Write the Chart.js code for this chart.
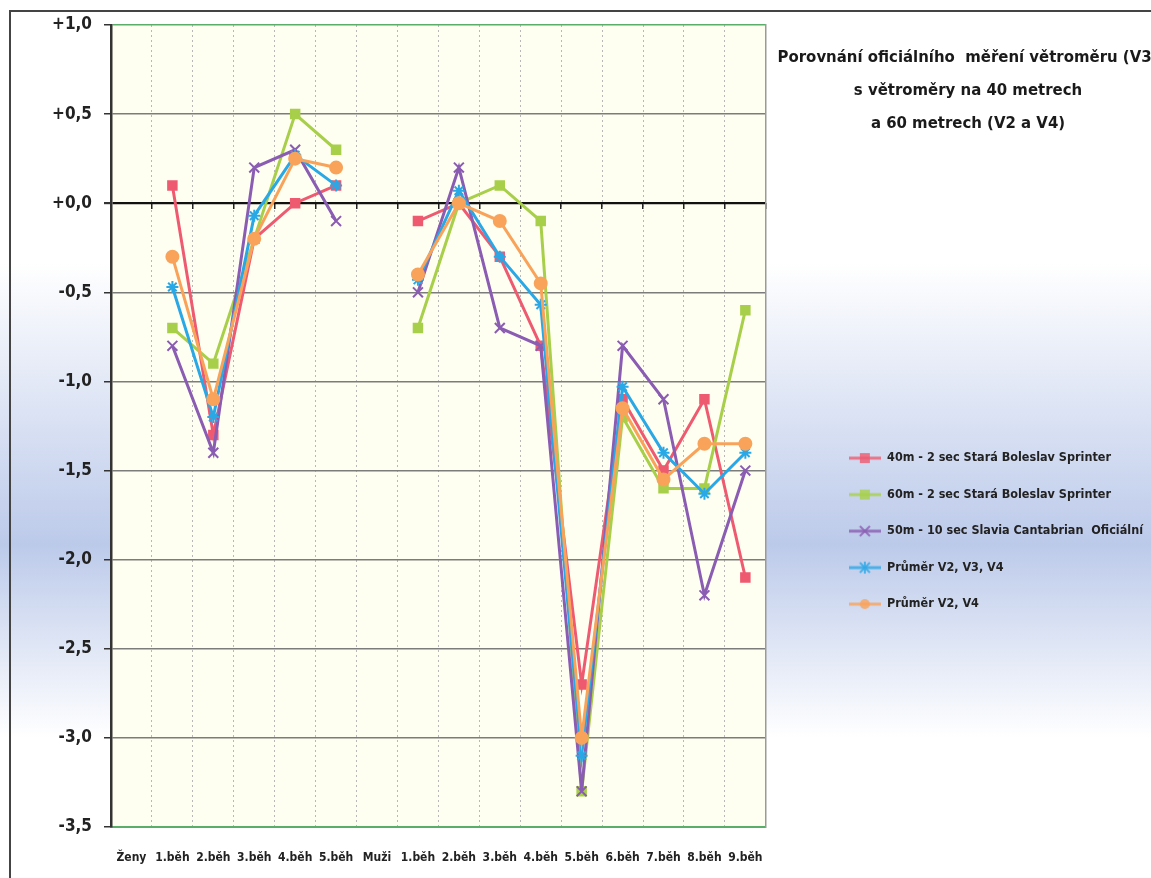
<!DOCTYPE html>
<html>
<head>
<meta charset="utf-8">
<title>Porovnání větroměrů</title>
<script src="https://cdn.jsdelivr.net/npm/chart.js@4/dist/chart.umd.min.js"></script>
<style>
  html, body {
    margin: 0;
    padding: 0;
    width: 1151px;
    height: 878px;
    overflow: hidden;
    background: linear-gradient(to bottom, #ffffff 0%, #ffffff 30%, #bccaea 62%, #ffffff 84%, #ffffff 100%);
    font-family: 'Liberation Sans Narrow', 'DejaVu Sans Condensed', 'Open Sans', sans-serif;
  }
  #frame {
    position: absolute;
    left: 9px;
    top: 10px;
    width: 1150px;
    height: 880px;
    border-top: 2px solid #444;
    border-left: 2px solid #444;
  }
  #wrap {
    position: absolute;
    left: 0;
    top: 0;
    width: 1151px;
    height: 878px;
  }
  #title {
    position: absolute;
    left: 772px;
    top: 40px;
    width: 392px;
    text-align: center;
    font-weight: bold;
    font-size: 16.6px;
    line-height: 33px;
    color: #1a1a1a;
    white-space: nowrap;
  }
</style>
</head>
<body>
<div id="frame"></div>
<div id="wrap"><canvas id="chart-wind"></canvas></div>
<div id="title">Porovnání oficiálního&nbsp; měření větroměru (V3)<br>s větroměry na 40 metrech<br>a 60 metrech (V2 a V4)</div>
<script>
// categories (Ženy / Muži blocks)
const categories = ['Ženy', '1.běh', '2.běh', '3.běh', '4.běh', '5.běh', 'Muži',
    '1.běh', '2.běh', '3.běh', '4.běh', '5.běh', '6.běh', '7.běh', '8.běh', '9.běh'];

// wind readings, m/s
const wind40m = [null, 0.1, -1.3, -0.2, 0.0, 0.1, null, -0.1, 0.0, -0.3, -0.8, -2.7, -1.1, -1.5, -1.1, -2.1];
const wind60m = [null, -0.7, -0.9, -0.2, 0.5, 0.3, null, -0.7, 0.0, 0.1, -0.1, -3.3, -1.2, -1.6, -1.6, -0.6];
const wind50m = [null, -0.8, -1.4, 0.2, 0.3, -0.1, null, -0.5, 0.2, -0.7, -0.8, -3.3, -0.8, -1.1, -2.2, -1.5];
const avgV2V3V4 = [null, -0.47, -1.2, -0.07, 0.27, 0.1, null, -0.43, 0.07, -0.3, -0.57, -3.1, -1.03, -1.4, -1.63, -1.4];
const avgV2V4 = [null, -0.3, -1.1, -0.2, 0.25, 0.2, null, -0.4, 0.0, -0.1, -0.45, -3.0, -1.15, -1.55, -1.35, -1.35];

const yTicks = [1, 0.5, 0, -0.5, -1, -1.5, -2, -2.5, -3, -3.5];

const FONT = "'Liberation Sans Narrow', 'DejaVu Sans Condensed', 'Open Sans', sans-serif";

const series = [
    {label: '40m - 2 sec Stará Boleslav Sprinter', data: wind40m, color: '#ee5a70', style: 'rect', order: 4},
    {label: '60m - 2 sec Stará Boleslav Sprinter', data: wind60m, color: '#a8cf4a', style: 'rect', order: 3},
    {label: '50m - 10 sec Slavia Cantabrian  Oficiální', data: wind50m, color: '#8a5cb2', style: 'crossRot', order: 2},
    {label: 'Průměr V2, V3, V4', data: avgV2V3V4, color: '#2aa8e6', style: 'star', order: 1},
    {label: 'Průměr V2, V4', data: avgV2V4, color: '#f9a35a', style: 'circle', order: 0}
];

// small line+marker image for the legend
function legendIcon(color, style) {
    const c = document.createElement('canvas');
    c.width = 32;
    c.height = 14;
    const g = c.getContext('2d');
    g.globalAlpha = 0.8;
    g.strokeStyle = color;
    g.fillStyle = color;
    g.lineWidth = 3;
    g.beginPath();
    g.moveTo(0, 7);
    g.lineTo(32, 7);
    g.stroke();
    g.lineWidth = 2;
    g.beginPath();
    if (style === 'rect') {
        g.fillRect(11, 2, 10, 10);
    } else if (style === 'circle') {
        g.arc(16, 7, 5, 0, Math.PI * 2);
        g.fill();
    } else if (style === 'crossRot') {
        g.moveTo(11, 2); g.lineTo(21, 12);
        g.moveTo(21, 2); g.lineTo(11, 12);
        g.stroke();
    } else {
        g.moveTo(11, 2); g.lineTo(21, 12);
        g.moveTo(21, 2); g.lineTo(11, 12);
        g.moveTo(16, 1); g.lineTo(16, 13);
        g.stroke();
    }
    return c;
}

function fmtTick(v) {
    const s = Math.abs(v).toFixed(1).replace('.', ',');
    return (v < 0 ? '-' : '+') + s;
}

const plotBackground = {
    id: 'plotBackground',
    beforeDraw(chart) {
        const {ctx, chartArea: a} = chart;
        ctx.save();
        ctx.fillStyle = '#fefef1';
        ctx.fillRect(a.left, a.top, a.width, a.height);
        ctx.restore();
    }
};

document.addEventListener('DOMContentLoaded', () => {
    const canvas = document.getElementById('chart-wind');
    canvas.width = 1151;
    canvas.height = 878;

    new Chart(canvas, {
        type: 'line',
        data: {
            labels: categories,
            datasets: series.map(s => ({
                label: s.label,
                data: s.data,
                borderColor: s.color,
                backgroundColor: s.color,
                pointBackgroundColor: s.color,
                pointBorderColor: s.color,
                pointStyle: s.style,
                pointRadius: s.style === 'crossRot' ? 7 : 6,
                pointBorderWidth: 2,
                borderWidth: 3,
                tension: 0,
                spanGaps: false,
                order: s.order
            }))
        },
        options: {
            responsive: false,
            animation: false,
            layout: {
                padding: {left: 10, top: 25, right: -2, bottom: 11}
            },
            plugins: {
                tooltip: {enabled: false},
                legend: {
                    position: 'right',
                    maxWidth: 420,
                    title: {
                        display: true,
                        text: ' ',
                        font: {size: 1},
                        padding: {top: 169, bottom: 0}
                    },
                    labels: {
                        usePointStyle: true,
                        pointStyleWidth: 32,
                        padding: 24,
                        color: '#222',
                        font: {family: FONT, size: 12.5, weight: 'bold'},
                        generateLabels: function(chart) {
                            return chart.data.datasets.map((ds, i) => ({
                                text: ds.label,
                                fillStyle: series[i].color,
                                strokeStyle: series[i].color,
                                fontColor: '#222',
                                pointStyle: legendIcon(series[i].color, series[i].style),
                                hidden: false,
                                lineWidth: 0,
                                datasetIndex: i
                            }));
                        }
                    }
                }
            },
            scales: {
                x: {
                    type: 'category',
                    offset: true,
                    grid: {
                        offset: true,
                        drawTicks: false,
                        color: '#b8b8b8',
                        lineWidth: 1
                    },
                    border: {display: true, color: '#5aae6a', width: 2, dash: [2, 3]},
                    ticks: {
                        autoSkip: false,
                        maxRotation: 0,
                        padding: 24,
                        color: '#222',
                        font: {family: FONT, size: 12, weight: 'bold'}
                    },
                    afterFit: scale => { scale.height = 40; }
                },
                xZero: {
                    type: 'category',
                    position: {y: 0},
                    offset: true,
                    grid: {
                        offset: true,
                        drawOnChartArea: false,
                        drawTicks: true,
                        tickLength: 6,
                        color: '#222',
                        lineWidth: 1.5
                    },
                    border: {display: false},
                    ticks: {display: true, color: 'rgba(0,0,0,0)', font: {size: 1}}
                },
                y: {
                    min: -3.5,
                    max: 1,
                    afterBuildTicks: scale => {
                        scale.ticks = yTicks.map(v => ({value: v}));
                    },
                    grid: {
                        drawTicks: true,
                        tickLength: 7,
                        tickColor: '#333',
                        color: c => {
                            const v = c.tick ? c.tick.value : null;
                            if (v === 0) return '#111';
                            if (v === 1 || v === -3.5) return '#5aae6a';
                            return '#7c7c7c';
                        },
                        lineWidth: c => (c.tick && c.tick.value === 0 ? 2.2 : 1.5)
                    },
                    border: {display: true, color: '#333', width: 2.5},
                    ticks: {
                        padding: 12,
                        color: '#222',
                        font: {family: FONT, size: 17, weight: 'bold'},
                        callback: v => fmtTick(v)
                    },
                    afterFit: scale => { scale.width = 101; }
                },
                yGap: {
                    position: 'right',
                    display: true,
                    grid: {display: false, drawTicks: false},
                    ticks: {display: false},
                    border: {display: true, color: '#9a9a9a', width: 1.5},
                    afterFit: scale => { scale.width = 59; }
                }
            }
        },
        plugins: [plotBackground]
    });
});
</script>
</body>
</html>
